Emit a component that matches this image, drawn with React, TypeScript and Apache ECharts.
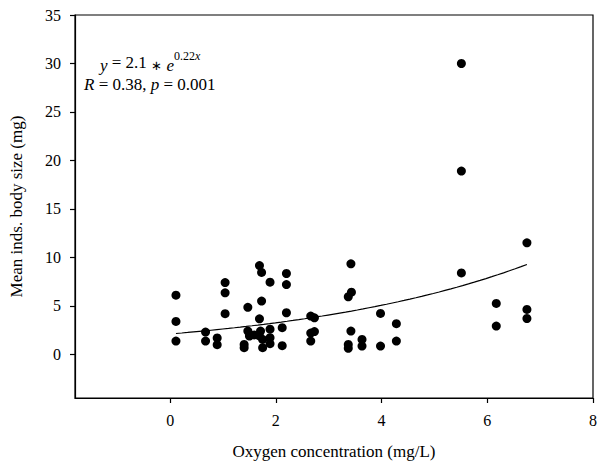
import React, { useEffect, useRef } from "react";
import * as echarts from "echarts";

const oxygen = [
  0.11, 0.11, 0.11, 0.67, 0.67, 0.89, 0.89, 1.04, 1.04, 1.04, 1.47,
  1.40, 1.40, 1.47, 1.50, 1.59, 1.69, 1.73, 1.73, 1.69, 1.71, 1.69, 1.75, 1.75,
  1.89, 1.89, 1.89, 1.89, 2.12, 2.12, 2.20, 2.20, 2.20,
  2.66, 2.73, 2.73, 2.66, 2.66, 3.42, 3.43, 3.37, 3.42, 3.37, 3.37,
  3.63, 3.63, 3.98, 3.98, 4.28, 4.28, 5.51, 5.51, 5.51, 6.17, 6.17,
  6.75, 6.75, 6.75,
];
const bodySize = [
  6.1, 3.4, 1.37, 2.3, 1.37, 1.7, 1.0, 7.4, 6.35, 4.2, 4.85,
  1.03, 0.69, 2.4, 1.89, 2.0, 9.16, 8.45, 5.5, 3.67, 2.4, 1.9, 1.54, 0.69,
  7.45, 2.6, 1.72, 1.1, 2.75, 0.9, 8.34, 7.2, 4.29,
  3.95, 3.77, 2.35, 2.2, 1.37, 9.34, 6.41, 5.94, 2.4, 1.03, 0.62,
  1.54, 0.86, 4.22, 0.86, 3.16, 1.37, 30.0, 18.9, 8.4, 5.25, 2.92,
  11.5, 4.63, 3.7,
];

// Fitted model shown on the chart: y = A * e^(k x)
const fitA = 2.1;
const fitK = 0.22;
const fitRange = [0.11, 6.75];

const xTicks = [0, 2, 4, 6, 8];
const yTicks = [0, 5, 10, 15, 20, 25, 30, 35];

const FONT = "'Liberation Serif', 'Times New Roman', serif";

export default function App() {
  const ref = useRef<HTMLDivElement>(null);
  useEffect(() => {
    document.body.style.margin = "0";
    const chart = echarts.init(ref.current!, null, { renderer: "svg" });
    const scatter = oxygen.map((x, i) => [x, bodySize[i]]);
    const fit: number[][] = [];
    const steps = 60;
    for (let i = 0; i <= steps; i++) {
      const x = fitRange[0] + ((fitRange[1] - fitRange[0]) * i) / steps;
      fit.push([x, fitA * Math.exp(fitK * x)]);
    }
    const axisText = { color: "#000", fontFamily: FONT, fontSize: 16 };
    chart.setOption({
      animation: false,
      backgroundColor: "#fff",
      grid: {
        left: 73,
        right: 3,
        top: 15,
        bottom: 67,
        show: true,
        borderColor: "#000",
        borderWidth: 1.2,
        backgroundColor: "transparent",
      },
      xAxis: {
        type: "value",
        min: -1.8,
        max: 8,
        name: "Oxygen concentration (mg/L)",
        nameLocation: "middle",
        nameGap: 45,
        nameTextStyle: { color: "#000", fontFamily: FONT, fontSize: 17 },
        axisLine: { show: true, onZero: false, lineStyle: { color: "#000", width: 1.2 } },
        axisTick: { show: true, length: 5, customValues: xTicks, lineStyle: { color: "#000", width: 1.2 } },
        axisLabel: { ...axisText, margin: 14, customValues: xTicks },
        splitLine: { show: false },
      },
      yAxis: {
        type: "value",
        min: -4.5,
        max: 35,
        name: "Mean inds. body size (mg)",
        nameLocation: "middle",
        nameGap: 50,
        nameTextStyle: { color: "#000", fontFamily: FONT, fontSize: 17 },
        axisLine: { show: true, onZero: false, lineStyle: { color: "#000", width: 1.2 } },
        axisTick: { show: true, length: 5, customValues: yTicks, lineStyle: { color: "#000", width: 1.2 } },
        axisLabel: { ...axisText, margin: 14, customValues: yTicks },
        splitLine: { show: false },
      },
      graphic: [
        {
          type: "text",
          left: 100,
          top: 50,
          style: {
            text: "{i|y} = 2.1 {a|∗} {m|e}{sup|0.22}{supi|x}",
            fill: "#000",
            font: `17px ${FONT}`,
            rich: {
              i: { fontFamily: FONT, fontSize: 17, fontStyle: "italic", lineHeight: 24, verticalAlign: "bottom" },
              a: { fontFamily: FONT, fontSize: 13, lineHeight: 24, verticalAlign: "bottom", padding: [0, 0, 2, 0] },
              m: { fontFamily: FONT, fontSize: 17, fontStyle: "italic", lineHeight: 24, verticalAlign: "bottom" },
              sup: { fontFamily: FONT, fontSize: 12, verticalAlign: "top", lineHeight: 24 },
              supi: { fontFamily: FONT, fontSize: 12, fontStyle: "italic", verticalAlign: "top", lineHeight: 24 },
            },
          },
        },
        {
          type: "text",
          left: 84,
          top: 76,
          style: {
            text: "{i|R} = 0.38, {i|p} = 0.001",
            fill: "#000",
            font: `17px ${FONT}`,
            rich: {
              i: { fontFamily: FONT, fontSize: 17, fontStyle: "italic" },
            },
          },
        },
      ],
      series: [
        {
          type: "scatter",
          data: scatter,
          symbol: "circle",
          symbolSize: 9,
          itemStyle: { color: "#000", opacity: 1 },
        },
        {
          type: "line",
          data: fit,
          showSymbol: false,
          symbol: "none",
          smooth: false,
          lineStyle: { color: "#000", width: 1.2 },
        },
      ],
    });
    return () => chart.dispose();
  }, []);
  return <div ref={ref} style={{ width: 600, height: 465 }} />;
}
